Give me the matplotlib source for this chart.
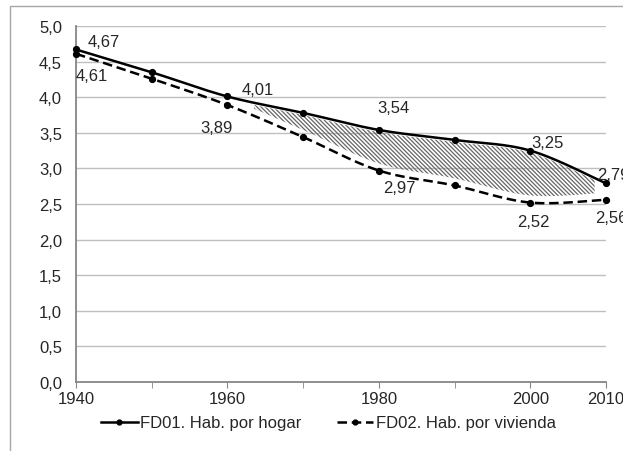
import numpy as np
import matplotlib.pyplot as plt
from matplotlib.patches import Rectangle

years = [1940, 1950, 1960, 1970, 1980, 1990, 2000, 2010]
hab_hogar = [4.67, 4.35, 4.01, 3.78, 3.54, 3.40, 3.25, 2.79]
hab_vivienda = [4.61, 4.26, 3.89, 3.44, 2.97, 2.76, 2.52, 2.56]
xtick_labels = ["1940", "1960", "1980", "2000", "2010"]
ytick_values = [0.0, 0.5, 1.0, 1.5, 2.0, 2.5, 3.0, 3.5, 4.0, 4.5, 5.0]
label_hogar = "FD01. Hab. por hogar"
label_vivienda = "FD02. Hab. por vivienda"

# data label placement: centre offset from the point in pixels (dx, dy up)
lab_hogar = {1940: (28, 8), 1960: (30, 6.5), 1980: (15, 22),
             2000: (17, 8), 2010: (7, 9)}
lab_viv = {1940: (16, -22), 1960: (-10.5, -22), 1980: (21, -16.5),
           2000: (3, -19), 2010: (5, -18)}

FS = 12
TXT = "#262626"


def smooth(xs, ys, n=40):
    # excel-like smoothing: cubic bezier with catmull-rom control points
    xs = np.asarray(xs, float)
    ys = np.asarray(ys, float)
    px = np.concatenate([[xs[0]], xs, [xs[-1]]])
    py = np.concatenate([[ys[0]], ys, [ys[-1]]])
    outx, outy = [], []
    t = np.linspace(0, 1, n)
    for i in range(1, len(px) - 2):
        p0 = np.array([px[i], py[i]])
        p3 = np.array([px[i + 1], py[i + 1]])
        c1 = p0 + (p3 - np.array([px[i - 1], py[i - 1]])) / 6
        c2 = p3 - (np.array([px[i + 2], py[i + 2]]) - p0) / 6
        b = ((1 - t) ** 3)[:, None] * p0 + (3 * (1 - t) ** 2 * t)[:, None] * c1 \
            + (3 * (1 - t) * t ** 2)[:, None] * c2 + (t ** 3)[:, None] * p3
        outx.extend(b[:, 0])
        outy.extend(b[:, 1])
    return np.array(outx), np.array(outy)


plt.rcParams['font.family'] = ['Liberation Sans', 'DejaVu Sans']
plt.rcParams['hatch.linewidth'] = 0.9

W, H = 623, 452
fig = plt.figure(figsize=(W / 100, H / 100), dpi=100)
ax = fig.add_axes([76 / W, (H - 383) / H, 530 / W, (383 - 27) / H])

# outer chart border (clipped on right / bottom like the original)
fig.patches.append(Rectangle((10 / W, -0.1), 1.0, (H - 7) / H + 0.1,
                             transform=fig.transFigure, fill=False,
                             edgecolor="#a6a6a6", linewidth=1.0))

sx1, sy1 = smooth(years, hab_hogar)
sx2, sy2 = smooth(years, hab_vivienda)

# hatched gap between the curves
xx = np.linspace(1963.5, 2008.5, 300)
top = np.interp(xx, sx1, sy1) - 0.03
bot = np.interp(xx, sx2, sy2) + 0.1
top = np.maximum(top, bot)
ax.fill_between(xx, bot, top, facecolor="none", edgecolor="#666666",
                hatch="\\\\\\\\\\\\\\\\", linewidth=0, zorder=2)

dash = (0, (3.8, 1.9))
ax.plot(sx1, sy1, color="black", linewidth=1.8, zorder=3, solid_capstyle="round")
ax.plot(sx2, sy2, color="black", linewidth=1.8, linestyle=dash, zorder=3)
ax.plot(years, hab_hogar, "o", color="black", markersize=4.2, zorder=4, clip_on=False)
ax.plot(years, hab_vivienda, "o", color="black", markersize=4.2, zorder=4, clip_on=False)

px2pt = 72 / 100
for series, labs in [(hab_hogar, lab_hogar), (hab_vivienda, lab_viv)]:
    for yr, v in zip(years, series):
        if yr in labs:
            dx, dy = labs[yr]
            ax.annotate(f"{v:.2f}".replace(".", ","), (yr, v),
                        xytext=(dx * px2pt, dy * px2pt), textcoords="offset points",
                        ha="center", va="center", fontsize=FS, color=TXT,
                        annotation_clip=False)

ax.set_xlim(1940, 2010)
ax.set_ylim(0, 5)
ax.set_yticks(ytick_values)
ax.set_yticklabels([f"{v:.1f}".replace(".", ",") for v in ytick_values])
ax.set_xticks([int(t) for t in xtick_labels])
ax.set_xticklabels(xtick_labels)
ax.set_xticks(years, minor=True)
ax.grid(axis="y", color="#bfbfbf", linewidth=1.0)
ax.set_axisbelow(True)
for s in ["top", "right"]:
    ax.spines[s].set_visible(False)
ax.spines["left"].set_color("#868686")
ax.spines["bottom"].set_color("#868686")
ax.spines["left"].set_linewidth(1.3)
ax.spines["bottom"].set_linewidth(1.3)
ax.tick_params(axis="y", length=0, labelsize=FS, colors=TXT, pad=10)
ax.tick_params(axis="x", which="both", length=4, direction="out", color="#868686",
               labelsize=FS, labelcolor=TXT, pad=2.5)

h1, = ax.plot([], [], color="black", linewidth=1.8, marker="o", markersize=3.5)
h2, = ax.plot([], [], color="black", linewidth=1.8, linestyle=dash,
              marker="o", markersize=3.5)
fig.legend([h1, h2], [label_hogar, label_vivienda], loc="center",
           bbox_to_anchor=(328.5 / W, (H - 424) / H), ncol=2, frameon=False,
           fontsize=FS, handlelength=2.2, handletextpad=0.15, columnspacing=2.1,
           labelcolor=TXT)

fig.savefig("out.png", dpi=100)
